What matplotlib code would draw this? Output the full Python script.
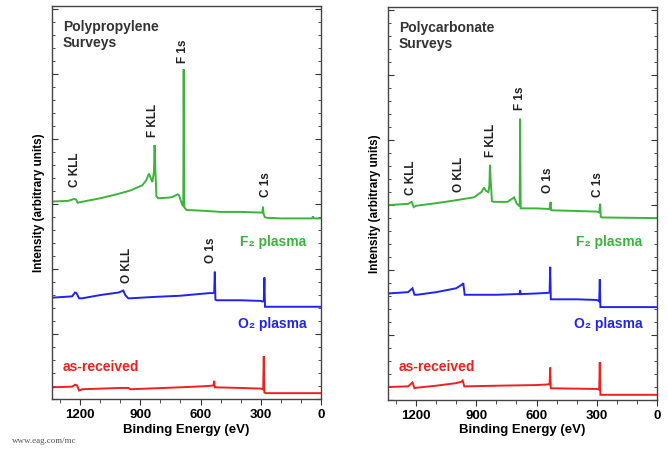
"""XPS survey spectra: polypropylene and polycarbonate, three treatments each."""
import matplotlib

matplotlib.use("Agg")
import matplotlib.pyplot as plt
from matplotlib.ticker import MultipleLocator, NullFormatter

plt.rcParams["font.family"] = ["Liberation Sans", "DejaVu Sans"]
plt.rcParams["font.weight"] = "bold"

GREEN = "#3cb43c"
BLUE = "#2222ee"
RED = "#ee2020"

# ---- Polypropylene (left panel) ----
pp_f2_ev = [1340, 1260, 1230, 1220, 1212, 1200, 1100, 1007, 950, 890, 870, 857, 848,
            840, 832, 829, 826, 820, 812, 760, 740, 715, 708, 698, 690, 686, 684, 681,
            670, 600, 500, 400, 300, 292, 289, 286, 280, 270, 200, 100, 45, 40, 35, 0]
pp_f2_int = [3.04, 3.05, 3.08, 3.07, 3.02, 3.03, 3.09, 3.16, 3.21, 3.29, 3.37, 3.47, 3.40,
             3.34, 3.50, 3.91, 3.60, 3.12, 3.09, 3.10, 3.11, 3.15, 3.14, 3.05, 2.98, 2.97, 5.08, 2.95,
             2.91, 2.90, 2.88, 2.88, 2.87, 2.87, 2.96, 2.85, 2.80, 2.79, 2.78, 2.78, 2.78, 2.81, 2.78, 2.78]

pp_o2_ev = [1340, 1240, 1225, 1218, 1205, 1190, 1100, 1007, 992, 985, 975, 960, 950,
            840, 700, 557, 540, 532, 529, 526, 520, 400, 300, 290, 285, 282, 279, 270, 0]
pp_o2_int = [1.56, 1.58, 1.64, 1.63, 1.55, 1.55, 1.60, 1.64, 1.66, 1.67, 1.60, 1.55, 1.55,
             1.57, 1.59, 1.63, 1.63, 1.64, 1.96, 1.53, 1.52, 1.52, 1.51, 1.50, 1.51, 1.87, 1.42, 1.42, 1.42]

pp_raw_ev = [1340, 1240, 1225, 1215, 1205, 1190, 1000, 960, 950, 700, 560, 535, 532,
             529, 525, 400, 300, 288, 285, 282, 275, 0]
pp_raw_int = [0.18, 0.19, 0.22, 0.21, 0.13, 0.15, 0.17, 0.17, 0.15, 0.18, 0.20, 0.21, 0.28,
              0.18, 0.18, 0.17, 0.16, 0.15, 0.66, 0.10, 0.09, 0.09]

# ---- Polycarbonate (right panel) ----
pc_f2_ev = [1340, 1240, 1222, 1212, 1200, 1100, 1012, 912, 875, 862, 852, 840, 835,
            832, 828, 822, 812, 745, 720, 712, 698, 690, 684, 682, 679, 670, 600, 535,
            530, 527, 520, 400, 300, 288, 283, 280, 272, 0]
pc_f2_int = [3.00, 3.02, 3.05, 2.97, 2.99, 3.03, 3.07, 3.12, 3.20, 3.27, 3.22, 3.20, 3.30,
             3.62, 3.35, 3.06, 3.05, 3.05, 3.10, 3.12, 3.02, 3.00, 2.98, 4.33, 2.95, 2.95, 2.95, 2.94,
             3.05, 2.92, 2.92, 2.91, 2.90, 2.89, 3.02, 2.82, 2.81, 2.80]

pc_o2_ev = [1340, 1240, 1218, 1208, 1195, 1100, 1000, 985, 970, 965, 958, 950, 800,
            700, 685, 682, 679, 600, 540, 535, 532, 529, 520, 400, 300, 288, 285, 282, 279, 0]
pc_o2_int = [1.64, 1.66, 1.72, 1.62, 1.62, 1.66, 1.72, 1.75, 1.78, 1.80, 1.62, 1.62, 1.62,
             1.63, 1.63, 1.69, 1.63, 1.64, 1.65, 1.66, 2.05, 1.55, 1.55, 1.55, 1.54, 1.52, 1.86, 1.43, 1.43, 1.43]

pc_raw_ev = [1340, 1240, 1218, 1208, 1195, 1100, 1000, 975, 968, 960, 950, 800, 600,
             540, 535, 532, 529, 520, 300, 288, 285, 282, 279, 0]
pc_raw_int = [0.20, 0.21, 0.27, 0.18, 0.19, 0.22, 0.26, 0.28, 0.30, 0.21, 0.21, 0.22, 0.23,
              0.24, 0.24, 0.50, 0.18, 0.18, 0.17, 0.16, 0.58, 0.08, 0.08, 0.08]

# peak labels: (text, energy, bottom of label in intensity units)
pp_peaks = [("C KLL", 1225, 3.26), ("F KLL", 835, 4.03), ("F 1s", 685, 5.18),
            ("C 1s", 275, 3.11), ("O KLL", 965, 1.78), ("O 1s", 550, 2.09)]
pc_peaks = [("C KLL", 1225, 3.15), ("O KLL", 985, 3.20), ("F KLL", 825, 3.74),
            ("F 1s", 680, 4.46), ("O 1s", 545, 3.18), ("C 1s", 295, 3.12)]

fig = plt.figure(figsize=(6.68, 4.49), dpi=100)
ax_pp = fig.add_axes([52 / 668, 50 / 449, 269 / 668, 393 / 449])
ax_pc = fig.add_axes([388 / 668, 49 / 449, 269 / 668, 393 / 449])


def draw_panel(ax, title, series, peaks, f2_y, o2_y, raw_y):
    for ev, inten, color in series:
        ax.plot(ev, inten, color=color, lw=1.4, solid_joinstyle="miter")
    ax.set_xlim(1340, 0)
    ax.set_ylim(0, 6.05)
    ax.xaxis.set_major_locator(MultipleLocator(300))
    ax.xaxis.set_minor_locator(MultipleLocator(100))
    ax.yaxis.set_major_locator(MultipleLocator(1))
    ax.yaxis.set_minor_locator(MultipleLocator(0.2))
    ax.yaxis.set_major_formatter(NullFormatter())
    ax.tick_params(axis="x", which="both", direction="out", top=False,
                   labelsize=9.5, pad=3, color="#333333")
    ax.tick_params(axis="x", which="major", length=4)
    ax.tick_params(axis="x", which="minor", length=3)
    ax.tick_params(axis="y", which="both", direction="in", left=True, right=True,
                   color="#333333")
    ax.tick_params(axis="y", which="major", length=4.5)
    ax.tick_params(axis="y", which="minor", length=2.5)
    for lab in ax.get_xticklabels():
        lab.set_fontweight("bold")
    for sp in ax.spines.values():
        sp.set_color("#444444")
        sp.set_linewidth(1.0)
    ax.set_xlabel("Binding Energy (eV)", fontsize=9.5, fontweight="bold", labelpad=2)
    ax.set_ylabel("Intensity (arbitrary units)", fontsize=8.5, fontweight="bold",
                  labelpad=1.5)

    ax.text(1285, 5.83, title, fontsize=10, fontweight="bold", color="#333333",
            va="top", ha="left", linespacing=1.15)
    for text, ev, y in peaks:
        ax.text(ev, y, text, rotation=90, ha="center", va="bottom", fontsize=8.5,
                fontweight="bold", color="#222222")
    ax.text(240, f2_y, "F₂ plasma", color=GREEN, fontsize=10, fontweight="bold",
            ha="center", va="center")
    ax.text(243, o2_y, "O₂ plasma", color=BLUE, fontsize=10, fontweight="bold",
            ha="center", va="center")
    ax.text(1285, raw_y, "as-received", color=RED, fontsize=10, fontweight="bold",
            ha="left", va="center")


draw_panel(ax_pp, "Polypropylene\nSurveys",
           [(pp_f2_ev, pp_f2_int, GREEN), (pp_o2_ev, pp_o2_int, BLUE),
            (pp_raw_ev, pp_raw_int, RED)],
           pp_peaks, 2.42, 1.15, 0.49)
draw_panel(ax_pc, "Polycarbonate\nSurveys",
           [(pc_f2_ev, pc_f2_int, GREEN), (pc_o2_ev, pc_o2_int, BLUE),
            (pc_raw_ev, pc_raw_int, RED)],
           pc_peaks, 2.43, 1.17, 0.51)

fig.text(12 / 668, 1 - 441 / 449, "www.eag.com/mc", fontsize=6.5, color="#555555",
         family=["Liberation Serif", "DejaVu Serif"], fontweight="normal", va="center")

fig.savefig("out.png", dpi=100)
plt.close(fig)
